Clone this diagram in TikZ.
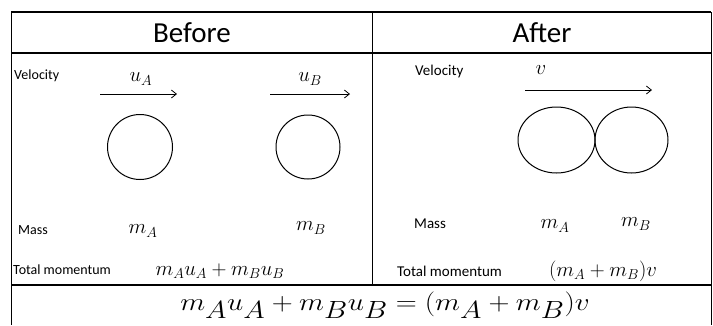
\documentclass[tikz,border=0pt]{standalone}
\usepackage{fontspec}
\usepackage{graphicx}
\setmainfont{Carlito}
\usetikzlibrary{arrows.meta}
\begin{document}
\begin{tikzpicture}[x=1pt,y=-1pt,
  thick line/.style={line width=2pt,black},
  thin line/.style={line width=0.9pt,black},
  ball/.style={line width=1pt,black},
  vel/.style={line width=0.8pt,-{Straight Barb[length=5pt,width=8pt]}},
  head/.style={font=\fontsize{29}{32}\selectfont},
  lblL/.style={anchor=west,inner sep=0pt,font=\fontsize{14}{16}\selectfont},
  lblR/.style={anchor=west,inner sep=0pt,font=\fontsize{15}{17}\selectfont},
  mth/.style={inner sep=0pt,font=\fontsize{22}{24}\selectfont},
  eq/.style={inner sep=0pt,font=\fontsize{35}{37}\selectfont}]
\useasboundingbox (0,0) rectangle (713,325);
\fill[white] (0,0) rectangle (713,325);
% table lines
\draw[thick line] (11,12) -- (711,12);
\draw[thick line] (11,53) -- (711,53);
\draw[thick line] (11,285) -- (711,285);
\draw[thin line] (11,12) -- (11,325);
\draw[thin line] (711,12) -- (711,325);
\draw[thin line] (372,12) -- (372,285);
% headers
\node[head] (before) at (192,33) {Before};
\node[head] (after) at (542,33) {After};
% before
\node[lblL] (velL) at (14,76) {Velocity};
\node[mth] (uA) at (141,79) {$u_A$};
\node[mth] (uB) at (310,79) {$u_B$};
\coordinate (a1s) at (100,94); \coordinate (a1e) at (177,94);
\coordinate (a2s) at (270,94); \coordinate (a2e) at (350,94);
\draw[vel] (a1s) -- (a1e);
\draw[vel] (a2s) -- (a2e);
\draw[ball] (140,147) circle (32.5);
\draw[ball] (308,147) circle (32);
\node[lblL] (massL) at (18,230) {Mass};
\node[mth] (mA) at (143,231) {$m_A$};
\node[mth] (mB) at (311,228) {$m_B$};
\node[lblL] (totL) at (13,270) {Total momentum};
\node[mth] (pL) at (220,271) {$m_Au_A+m_Bu_B$};
% after
\node[lblR] (velR) at (415,71) {Velocity};
\node[mth] (v) at (541,70) {$v$};
\coordinate (a3s) at (525,90); \coordinate (a3e) at (652,90);
\draw[vel] (a3s) -- (a3e);
\draw[ball] (556.5,140) ellipse (38.5 and 33);
\draw[ball] (631.5,140) ellipse (36.5 and 33);
\node[lblR] (massR) at (414,224) {Mass};
\node[mth] (mA2) at (555,226) {$m_A$};
\node[mth] (mB2) at (636,224) {$m_B$};
\node[lblR] (totR) at (397,271) {Total momentum};
\node[mth] (pR) at (603,271) {$(m_A+m_B)v$};
% bottom
\node[eq] (eqn) at (385,305) {\scalebox{1.17}[1]{$m_Au_A+m_Bu_B=(m_A+m_B)v$}};
\end{tikzpicture}
\end{document}
